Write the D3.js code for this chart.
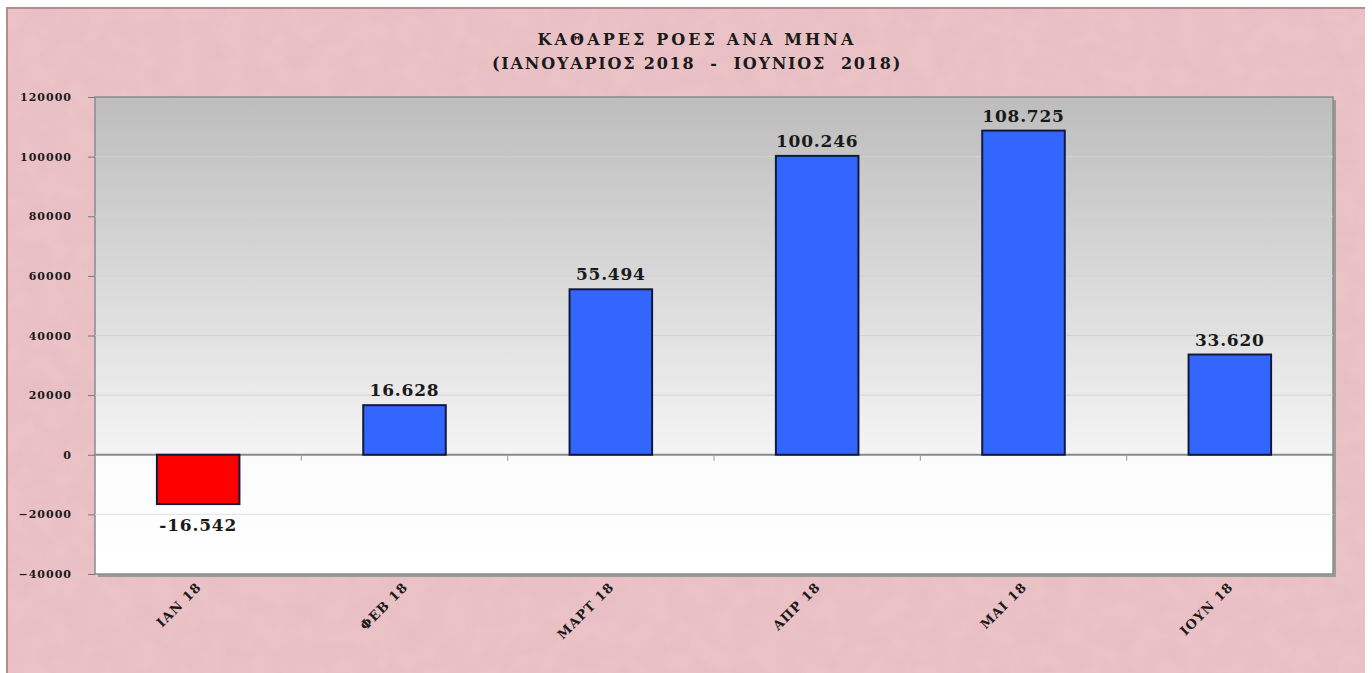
<!DOCTYPE html>
<html>
  <head>
    <meta charset="utf-8">
    <style>
        body { margin: 0; background: #fff; }
        text { font-family: "DejaVu Serif", "Liberation Serif", serif; fill: #1a1a1a; }
    </style>
    <script src="https://d3js.org/d3.v7.min.js"></script>
  </head>
  <body>
    <svg></svg>
    <script>
    // data
    var months = ["ΙΑΝ 18", "ΦΕΒ 18", "ΜΑΡΤ 18", "ΑΠΡ 18", "ΜΑΙ 18", "ΙΟΥΝ 18"];
    var flows = [-16542, 16628, 55494, 100246, 108725, 33620];
    var yTicks = [-40000, -20000, 0, 20000, 40000, 60000, 80000, 100000, 120000];
    var titleLines = ["ΚΑΘΑΡΕΣ ΡΟΕΣ ΑΝΑ ΜΗΝΑ", "(ΙΑΝΟΥΑΡΙΟΣ 2018  -  ΙΟΥΝΙΟΣ  2018)"];

    var W = 1372, H = 673;
    var m = {left: 95, top: 97, right: 1333, bottom: 574};

    var svg = d3.select("svg")
        .attr("width", W)
        .attr("height", H);

    var defs = svg.append("defs");

    // mottled paper texture
    var f = defs.append("filter").attr("id", "paper")
        .attr("x", 0).attr("y", 0).attr("width", "100%").attr("height", "100%");
    f.append("feTurbulence")
        .attr("type", "fractalNoise")
        .attr("baseFrequency", "0.045")
        .attr("numOctaves", 3)
        .attr("seed", 4);
    f.append("feColorMatrix")
        .attr("type", "matrix")
        .attr("values", "0 0 0 0 0.6  0 0 0 0 0.38  0 0 0 0 0.42  0 0 0 0.5 -0.18");

    var grad = defs.append("linearGradient").attr("id", "plotbg")
        .attr("x1", 0).attr("y1", 0).attr("x2", 0).attr("y2", 1);

    var y = d3.scaleLinear()
        .domain([-40000, 120000])
        .range([m.bottom, m.top]);

    var x = d3.scaleBand()
        .domain(months)
        .range([m.left, m.right])
        .paddingInner(0.6)
        .paddingOuter(0.3);

    var zeroFrac = (y(0) - m.top) / (m.bottom - m.top);
    grad.append("stop").attr("offset", 0).attr("stop-color", "#bdbdbd");
    grad.append("stop").attr("offset", zeroFrac).attr("stop-color", "#f4f4f4");
    grad.append("stop").attr("offset", zeroFrac).attr("stop-color", "#fbfbfb");
    grad.append("stop").attr("offset", 1).attr("stop-color", "#ffffff");

    // page frame
    svg.append("rect")
        .attr("x", 6).attr("y", 7)
        .attr("width", 1359).attr("height", H - 7)
        .attr("fill", "#ebc2c6");
    svg.append("rect")
        .attr("x", 6).attr("y", 7)
        .attr("width", 1359).attr("height", H - 7)
        .attr("filter", "url(#paper)")
        .attr("opacity", 0.5);
    svg.append("path")
        .attr("d", "M7," + H + "V8H1365")
        .attr("fill", "none")
        .attr("stroke", "#b48c90")
        .attr("stroke-width", 2);

    // title
    svg.selectAll(".title")
      .data(titleLines)
      .enter().append("text")
        .attr("class", "title")
        .attr("x", 697)
        .attr("y", function(d, i) { return 45 + i * 24; })
        .attr("text-anchor", "middle")
        .attr("font-size", "16px")
        .attr("font-weight", "bold")
        .attr("letter-spacing", function(d, i) { return i == 0 ? 3.1 : 1.8; })
        .style("white-space", "pre")
        .text(function(d) { return d; });

    // plot area with shadow
    svg.append("rect")
        .attr("x", m.left + 3).attr("y", m.top + 3)
        .attr("width", m.right - m.left).attr("height", m.bottom - m.top)
        .attr("fill", "#9a9a9a");
    svg.append("rect")
        .attr("x", m.left).attr("y", m.top)
        .attr("width", m.right - m.left).attr("height", m.bottom - m.top)
        .attr("fill", "url(#plotbg)")
        .attr("stroke", "#8c8c8c")
        .attr("stroke-width", 1.5);

    // gridlines
    svg.append("g")
        .selectAll("line")
        .data(yTicks.filter(function(d) { return d != 0 && d != 120000 && d != -40000; }))
        .enter().append("line")
          .attr("x1", m.left).attr("x2", m.right)
          .attr("y1", function(d) { return y(d); })
          .attr("y2", function(d) { return y(d); })
          .attr("stroke", function(d) { return d > 0 ? "#d2d2d2" : "#e2e2e2"; })
          .attr("stroke-width", 1);

    // y axis
    var yAxis = svg.append("g")
        .attr("transform", "translate(" + m.left + ",0)")
        .call(d3.axisLeft(y).tickValues(yTicks).tickSize(7).tickPadding(16).tickFormat(d3.format("d")));
    yAxis.select(".domain").remove();
    yAxis.selectAll("line").attr("stroke", "#777");
    yAxis.selectAll("text")
        .attr("font-size", "11px")
        .attr("font-weight", "bold")
        .attr("letter-spacing", 1)
        .attr("fill", "#222")
        .style("font-family", "'DejaVu Serif', serif");

    // zero line with category ticks
    svg.append("line")
        .attr("x1", m.left).attr("x2", m.right)
        .attr("y1", y(0)).attr("y2", y(0))
        .attr("stroke", "#8a8a8a")
        .attr("stroke-width", 2);
    svg.append("g")
        .selectAll("line")
        .data(months.slice(1))
        .enter().append("line")
          .attr("x1", function(d) { return x(d) - x.step() * x.paddingInner() / 2; })
          .attr("x2", function(d) { return x(d) - x.step() * x.paddingInner() / 2; })
          .attr("y1", y(0)).attr("y2", y(0) + 6)
          .attr("stroke", "#999");

    // bars
    svg.append("g")
        .selectAll("rect")
        .data(flows)
        .enter().append("rect")
          .attr("x", function(d, i) { return x(months[i]); })
          .attr("y", function(d) { return y(Math.max(0, d)); })
          .attr("width", x.bandwidth())
          .attr("height", function(d) { return Math.abs(y(d) - y(0)); })
          .attr("fill", function(d) { return d < 0 ? "#ff0000" : "#3366ff"; })
          .attr("stroke", "#111a3a")
          .attr("stroke-width", 2);

    // value labels
    var fmt = function(d) { return d3.format(",")(d).replace(/,/g, ".").replace("−", "-"); };
    svg.append("g")
        .selectAll("text")
        .data(flows)
        .enter().append("text")
          .attr("x", function(d, i) { return x(months[i]) + x.bandwidth() / 2; })
          .attr("y", function(d) { return d < 0 ? y(d) + 27 : y(d) - 9; })
          .attr("text-anchor", "middle")
          .attr("font-size", "17px")
          .attr("font-weight", "bold")
          .attr("letter-spacing", 0.8)
          .text(fmt);

    // rotated month labels
    svg.append("g")
        .selectAll("text")
        .data(months)
        .enter().append("text")
          .attr("transform", function(d) {
              return "translate(" + (x(d) + x.bandwidth() / 2 + 4) + "," + 588 + ") rotate(-45)";
          })
          .attr("text-anchor", "end")
          .attr("font-size", "13px")
          .attr("font-weight", "bold")
          .attr("letter-spacing", 1)
          .attr("fill", "#2a2a2a")
          .text(function(d) { return d; });
    </script>
  </body>
</html>
